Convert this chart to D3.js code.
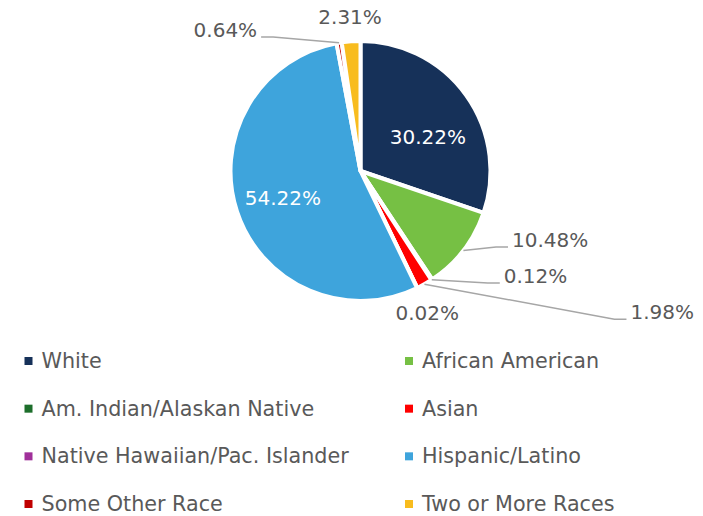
<!DOCTYPE html>
<html>
<head>
<meta charset="utf-8">
<script src="https://cdn.jsdelivr.net/npm/d3@7"></script>
<style>
  html, body { margin: 0; padding: 0; background: #fff; }
  svg { display: block; font-family: "DejaVu Sans", sans-serif; }
</style>
</head>
<body>
<svg id="chart" width="703" height="516"></svg>
<script>
const categories = [
  "White",
  "African American",
  "Am. Indian/Alaskan Native",
  "Asian",
  "Native Hawaiian/Pac. Islander",
  "Hispanic/Latino",
  "Some Other Race",
  "Two or More Races"
];
const shares = [30.22, 10.48, 0.12, 1.98, 0.02, 54.22, 0.64, 2.31];
const colors = ["#163159", "#76c044", "#1d6e2b", "#ff0000", "#a0309a", "#3ea4dc", "#c00000", "#f8bc1e"];

// label placement, relative to the slice's outer midpoint (or centroid when inside)
const labelLayout = [
  { inside: true, dx: 4, dy: 11 },
  { dx: 48.6, dy: -10.5, anchor: "start", leader: true },
  { dx: 72, dy: -3.7, anchor: "start", leader: true },
  { dx: 206, dy: 28, anchor: "start", leader: true },
  { dx: 10, dy: 25, anchor: "middle", leader: false },
  { inside: true, dx: -3.5, dy: 2.5 },
  { dx: -82, dy: -12.8, anchor: "end", leader: true },
  { dx: -1, dy: -24, anchor: "middle", leader: false }
];

const svg = d3.select("#chart");
const cx = 360.5, cy = 171, radius = 130;
const textColor = "#595959";

const data = categories.map((c, i) => ({ name: c, value: shares[i], color: colors[i], layout: labelLayout[i] }));

const pie = d3.pie().sort(null).value(d => d.value);
const arcs = pie(data);
const arc = d3.arc().innerRadius(0).outerRadius(radius);
const inner = d3.arc().innerRadius(radius * 0.6).outerRadius(radius * 0.6);

const g = svg.append("g").attr("transform", `translate(${cx},${cy})`);

// slices
g.selectAll("path.slice")
  .data(arcs)
  .join("path")
  .attr("class", "slice")
  .attr("d", arc)
  .attr("fill", d => d.data.color)
  .attr("stroke", "#fff")
  .attr("stroke-width", 4)
  .attr("stroke-linejoin", "round");

// outer midpoint of a slice
function outerPoint(d) {
  const a = (d.startAngle + d.endAngle) / 2;
  return [radius * Math.sin(a), -radius * Math.cos(a)];
}

// data labels
arcs.forEach(d => {
  const L = d.data.layout;
  const txt = d.data.value.toFixed(2) + "%";
  if (L.inside) {
    const [x, y] = inner.centroid(d);
    g.append("text")
      .attr("x", x + L.dx).attr("y", y + L.dy)
      .attr("text-anchor", "middle")
      .attr("dominant-baseline", "central")
      .attr("fill", "#fff")
      .style("font-size", "20px")
      .text(txt);
    return;
  }
  const [ox, oy] = outerPoint(d);
  const tx = ox + L.dx, ty = oy + L.dy;
  if (L.leader) {
    const dir = L.anchor === "end" ? 1 : -1;
    const endX = tx + dir * 4, lineY = ty + 7;
    const elbowX = endX + dir * 12;
    g.append("path")
      .attr("d", d3.line()([[ox, oy], [elbowX, lineY], [endX, lineY]]))
      .attr("fill", "none")
      .attr("stroke", "#a6a6a6")
      .attr("stroke-width", 1.5);
  }
  g.append("text")
    .attr("x", tx).attr("y", ty)
    .attr("text-anchor", L.anchor)
    .attr("dominant-baseline", "central")
    .attr("fill", textColor)
    .style("font-size", "20px")
    .text(txt);
});

// legend: two columns, four rows
const colX = d3.scaleOrdinal().domain([0, 1]).range([24.5, 405]);
const rowY = d3.scalePoint().domain(d3.range(4)).range([361, 504]);

const legend = svg.append("g")
  .selectAll("g")
  .data(data)
  .join("g")
  .attr("transform", (d, i) => `translate(${colX(i % 2)},${rowY(Math.floor(i / 2))})`);

legend.append("rect")
  .attr("x", 0).attr("y", -4)
  .attr("width", 8).attr("height", 8)
  .attr("fill", d => d.color);

legend.append("text")
  .attr("x", 17)
  .attr("y", 0)
  .attr("dominant-baseline", "central")
  .attr("fill", textColor)
  .style("font-size", "20.7px")
  .text(d => d.name);
</script>
</body>
</html>
